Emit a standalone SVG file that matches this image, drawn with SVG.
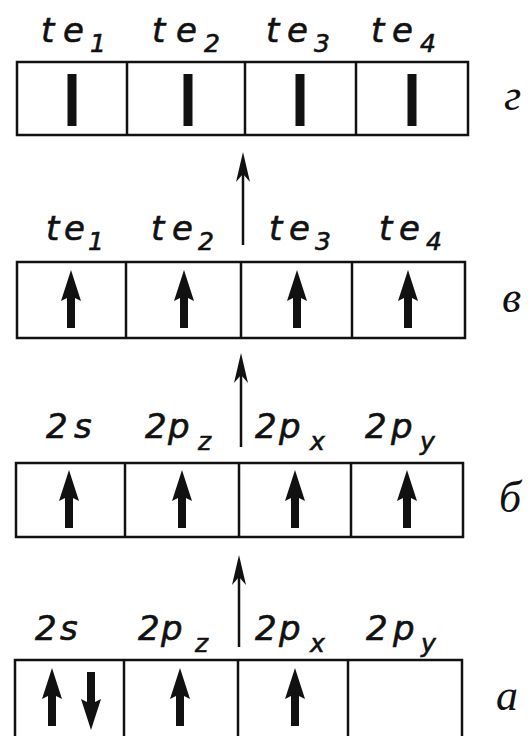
<svg xmlns="http://www.w3.org/2000/svg" xmlns:xlink="http://www.w3.org/1999/xlink" width="528" height="736" viewBox="0 0 528 736">
  <style>
    .box { fill: #ffffff; stroke: #111111; stroke-width: 2.5; }
    .div { stroke: #111111; stroke-width: 2.5; }
    .lbl { font-family: "DejaVu Sans", "Liberation Sans", sans-serif; font-style: italic; font-size: 34px; fill: #111111; stroke: #111111; stroke-width: 0.6; }
    .sub { font-size: 25px; }
    .tag { font-family: "Liberation Serif", "DejaVu Serif", serif; font-style: italic; font-size: 44px; fill: #111111; }
    .conn { stroke: #111111; stroke-width: 2.5; fill: none; marker-end: url(#ah); }
    .spin { fill: #111111; }
  </style>
  <defs>
    <marker id="ah" viewBox="-36 -8 38 16" refX="-8" refY="0" markerWidth="38" markerHeight="16" orient="auto" markerUnits="userSpaceOnUse">
      <path d="M0,0 L-30,-7 L-22,0 L-30,7 Z" fill="#111111"/>
    </marker>
    <path id="up" d="M0,0 L10,31 L4,28 L4,58 L-4,58 L-4,28 L-10,31 Z"/>
    <rect id="bar" x="-4.5" y="0" width="9" height="52"/>
  </defs>
  <rect width="528" height="736" fill="#ffffff"/>

  <!-- г : hybridized, bonded -->
  <g id="row-g">
    <rect class="box" x="17" y="62" width="451" height="73"/>
    <line class="div" x1="127" y1="62" x2="127" y2="135"/>
    <line class="div" x1="245" y1="62" x2="245" y2="135"/>
    <line class="div" x1="356" y1="62" x2="356" y2="135"/>
    <g class="spin">
      <use href="#bar" x="72" y="74"/>
      <use href="#bar" x="188" y="74"/>
      <use href="#bar" x="300" y="74"/>
      <use href="#bar" x="412" y="74"/>
    </g>
    <text class="lbl" x="41 63" y="42">te<tspan class="sub" x="90" dy="10">1</tspan></text>
    <text class="lbl" x="152 176" y="42">te<tspan class="sub" x="204" dy="10">2</tspan></text>
    <text class="lbl" x="266 287" y="42">te<tspan class="sub" x="314" dy="10">3</tspan></text>
    <text class="lbl" x="371 392" y="42">te<tspan class="sub" x="420" dy="10">4</tspan></text>
    <text class="tag" x="504" y="110">г</text>
  </g>

  <!-- в : hybridized -->
  <g id="row-v">
    <rect class="box" x="17" y="262" width="448" height="76"/>
    <line class="div" x1="126" y1="262" x2="126" y2="338"/>
    <line class="div" x1="241" y1="262" x2="241" y2="338"/>
    <line class="div" x1="352" y1="262" x2="352" y2="338"/>
    <g class="spin">
      <use href="#up" x="71" y="270"/>
      <use href="#up" x="184" y="270"/>
      <use href="#up" x="297" y="270"/>
      <use href="#up" x="408" y="270"/>
    </g>
    <text class="lbl" x="46 64" y="240">te<tspan class="sub" x="88" dy="10">1</tspan></text>
    <text class="lbl" x="151 172" y="240">te<tspan class="sub" x="198" dy="10">2</tspan></text>
    <text class="lbl" x="269 289" y="240">te<tspan class="sub" x="315" dy="10">3</tspan></text>
    <text class="lbl" x="379 399" y="240">te<tspan class="sub" x="426" dy="10">4</tspan></text>
    <text class="tag" x="502" y="312">в</text>
  </g>

  <!-- б : excited -->
  <g id="row-b">
    <rect class="box" x="16" y="463" width="447" height="74"/>
    <line class="div" x1="125" y1="463" x2="125" y2="537"/>
    <line class="div" x1="239" y1="463" x2="239" y2="537"/>
    <line class="div" x1="351" y1="463" x2="351" y2="537"/>
    <g class="spin">
      <use href="#up" x="69" y="470"/>
      <use href="#up" x="182" y="470"/>
      <use href="#up" x="295" y="470"/>
      <use href="#up" x="407" y="470"/>
    </g>
    <text class="lbl" x="46 74" y="438">2s</text>
    <text class="lbl" x="145 168" y="438">2p<tspan class="sub" x="198" dy="12">z</tspan></text>
    <text class="lbl" x="255 279" y="438">2p<tspan class="sub" x="310" dy="12">x</tspan></text>
    <text class="lbl" x="365 391" y="438">2p<tspan class="sub" x="420" dy="12">y</tspan></text>
    <text class="tag" x="499" y="512">б</text>
  </g>

  <!-- а : ground -->
  <g id="row-a">
    <rect class="box" x="15" y="660" width="447" height="80"/>
    <line class="div" x1="124" y1="660" x2="124" y2="740"/>
    <line class="div" x1="238" y1="660" x2="238" y2="740"/>
    <line class="div" x1="348" y1="660" x2="348" y2="740"/>
    <g class="spin">
      <use href="#up" x="52" y="668"/>
      <use href="#up" transform="translate(91,730) rotate(180)"/>
      <use href="#up" x="180" y="668"/>
      <use href="#up" x="295" y="668"/>
    </g>
    <text class="lbl" x="35 60" y="640">2s</text>
    <text class="lbl" x="138 161" y="640">2p<tspan class="sub" x="195" dy="12">z</tspan></text>
    <text class="lbl" x="255 279" y="640">2p<tspan class="sub" x="310" dy="12">x</tspan></text>
    <text class="lbl" x="366 393" y="640">2p<tspan class="sub" x="421" dy="12">y</tspan></text>
    <text class="tag" x="496" y="710">а</text>
  </g>

  <g id="connectors">
    <line class="conn" x1="243" y1="245" x2="243" y2="160"/>
    <line class="conn" x1="241" y1="447" x2="241" y2="361"/>
    <line class="conn" x1="239" y1="647" x2="239" y2="563"/>
  </g>
</svg>
